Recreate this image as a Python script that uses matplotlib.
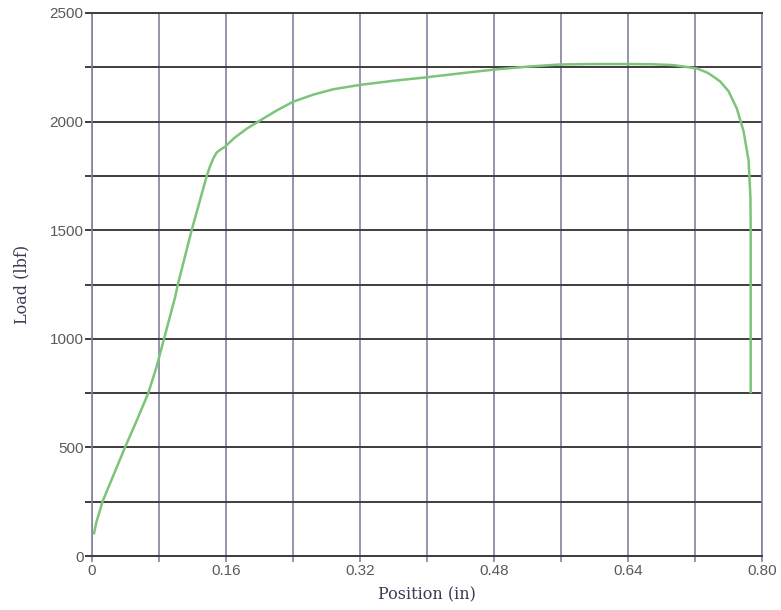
import matplotlib
matplotlib.use("Agg")
import matplotlib.pyplot as plt
from matplotlib.ticker import MultipleLocator

position = [0.0025, 0.0050, 0.0125, 0.0270, 0.0394, 0.0530, 0.0672, 0.0770, 0.0860,
            0.0991, 0.1025, 0.1190, 0.1370, 0.1410, 0.1449, 0.1489, 0.1530, 0.1588,
            0.1700, 0.1850, 0.1986, 0.2200, 0.2404, 0.2650, 0.2882, 0.3200, 0.3600,
            0.3996, 0.4394, 0.4812, 0.5200, 0.5588, 0.6000, 0.6385, 0.6700, 0.6943,
            0.7220, 0.7350, 0.7420, 0.7500, 0.7600, 0.7700, 0.7780, 0.7840, 0.7862,
            0.7865, 0.7865]
load = [105, 152, 250, 385, 500, 620, 750, 870, 1000,
        1190, 1250, 1500, 1750, 1795, 1831, 1858, 1870, 1884,
        1925, 1968, 2000, 2050, 2092, 2125, 2149, 2169, 2188,
        2204, 2222, 2240, 2253, 2263, 2265, 2265, 2264, 2260,
        2245, 2225, 2207, 2185, 2140, 2060, 1955, 1820, 1650,
        1501, 755]

x_ticks = [0, 0.16, 0.32, 0.48, 0.64, 0.80]
x_ticklabels = ["0", "0.16", "0.32", "0.48", "0.64", "0.80"]
y_ticks = [0, 500, 1000, 1500, 2000, 2500]
y_ticklabels = ["0", "500", "1000", "1500", "2000", "2500"]

vcol = "#8282a0"
hcol = "#403c3c"
tickcol = "#5a5a5a"
labcol = "#3e3a55"

fig = plt.figure(figsize=(7.81, 6.10), dpi=100)
ax = fig.add_axes([92/781, 1-556/610, 670/781, 543/610])
ax.set_xlim(0, 0.80)
ax.set_ylim(0, 2500)

ax.plot(position, load, color="#7cc47a", lw=1.8, zorder=3)

ax.xaxis.set_minor_locator(MultipleLocator(0.08))
ax.yaxis.set_minor_locator(MultipleLocator(250))
ax.set_xticks(x_ticks)
ax.set_xticklabels(x_ticklabels)
ax.set_yticks(y_ticks)
ax.set_yticklabels(y_ticklabels)

ax.grid(True, which="both", axis="x", color=vcol, lw=1.2)
ax.grid(True, which="both", axis="y", color=hcol, lw=1.4)
ax.set_axisbelow(True)

for s in ("left", "right"):
    ax.spines[s].set_color(vcol)
    ax.spines[s].set_linewidth(1.2)
for s in ("top", "bottom"):
    ax.spines[s].set_color(hcol)
    ax.spines[s].set_linewidth(1.4)

tickfont = ["Liberation Sans Narrow", "Liberation Sans", "DejaVu Sans"]
ax.tick_params(axis="x", which="both", direction="out", length=4, width=1.2,
               color=vcol, labelcolor=tickcol, labelsize=11, pad=2)
ax.tick_params(axis="y", which="both", direction="out", length=5, width=1.4,
               color=hcol, labelcolor=tickcol, labelsize=11, pad=1)
for lab in ax.get_xticklabels() + ax.get_yticklabels():
    lab.set_family(tickfont)

ax.set_xlabel("Position (in)", family=["DejaVu Serif"], fontsize=11.5,
              color=labcol, labelpad=6)
ax.set_ylabel("Load (lbf)", family=["DejaVu Serif"], fontsize=11.5,
              color=labcol, labelpad=14)

fig.savefig("out.png", dpi=100, facecolor="white")
